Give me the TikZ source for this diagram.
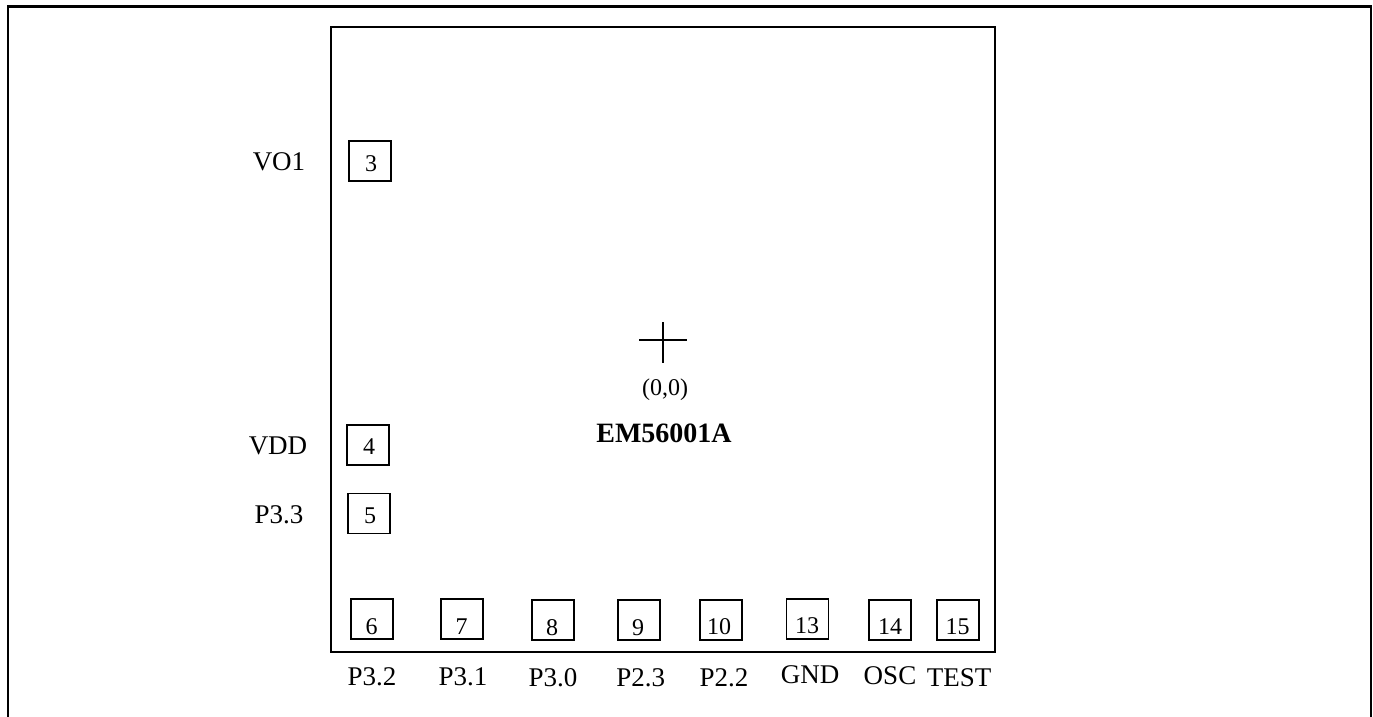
\documentclass[tikz,border=0pt]{standalone}
\usepackage{fontspec}
\setmainfont{Liberation Serif}
\tikzset{
  padbox/.style={draw=black,line width=1.8pt,rectangle,inner sep=0pt,minimum width=42pt,minimum height=40pt},
  pinlabel/.style={anchor=base,inner sep=0pt,font=\fontsize{27}{27}\selectfont},
  padnum/.style={anchor=base,inner sep=0pt,font=\fontsize{24}{24}\selectfont},
  frameline/.style={draw=black,line width=2.8pt,line join=miter},
  chipline/.style={draw=black,line width=2pt},
  crossline/.style={draw=black,line width=1.4pt}
}
\begin{document}
\begin{tikzpicture}[x=1pt,y=-1pt]
\useasboundingbox (0,0) rectangle (1373,717);
% outer frame, open at the bottom
\coordinate (fbl) at (8,717);
\coordinate (ftl) at (8,6.5);
\coordinate (ftr) at (1371,6.5);
\coordinate (fbr) at (1371,717);
\draw[frameline] (fbl) -- (ftl) -- (ftr) -- (fbr);
% chip
\node[chipline,rectangle,inner sep=0pt,minimum width=664.5pt,minimum height=624.5pt] (chip) at (662.75,339.75) {};
% pads
\node[padbox] (p3) at (370,161) {};
\node[padbox] (p4) at (367.7,445) {};
\node[padbox] (p5) at (369.3,513.5) {};
\node[padbox] (p6) at (372.2,619) {};
\node[padbox] (p7) at (462.2,619) {};
\node[padbox] (p8) at (553,620) {};
\node[padbox] (p9) at (639,620) {};
\node[padbox] (p10) at (721,620) {};
\node[padbox] (p13) at (807.5,619) {};
\node[padbox] (p14) at (890,620) {};
\node[padbox] (p15) at (957.7,620) {};
% pad numbers
\node[padnum] (n3) at (371,171.5) {3};
\node[padnum] (n4) at (369,454) {4};
\node[padnum] (n5) at (370,523) {5};
\node[padnum] (n6) at (371.5,634) {6};
\node[padnum] (n7) at (461.7,634) {7};
\node[padnum] (n8) at (552,635) {8};
\node[padnum] (n9) at (638,635) {9};
\node[padnum] (n10) at (719,634.5) {10};
\node[padnum] (n13) at (807,633.5) {13};
\node[padnum] (n14) at (890,634.5) {14};
\node[padnum] (n15) at (957.5,634.5) {15};
% pin names
\node[pinlabel] (l3) at (279,170) {VO1};
\node[pinlabel] (l4) at (278,454) {VDD};
\node[pinlabel] (l5) at (279,523) {P3.3};
\node[pinlabel] (l6) at (372,685) {P3.2};
\node[pinlabel] (l7) at (463,685) {P3.1};
\node[pinlabel] (l8) at (553,686) {P3.0};
\node[pinlabel] (l9) at (640.7,686) {P2.3};
\node[pinlabel] (l10) at (724,686) {P2.2};
\node[pinlabel] (l13) at (810,683) {GND};
\node[pinlabel] (l14) at (890,684) {OSC};
\node[pinlabel] (l15) at (959,686) {TEST};
% origin cross
\coordinate (cw) at (639,340);
\coordinate (ce) at (687,340);
\coordinate (cn) at (663,322);
\coordinate (cs) at (663,363);
\draw[crossline] (cw) -- (ce);
\draw[crossline] (cn) -- (cs);
\node[padnum] (origin) at (665,395) {(0,0)};
\node[anchor=base,inner sep=0pt,font=\fontsize{28}{28}\selectfont\bfseries] (name) at (664,442) {EM56001A};
\end{tikzpicture}
\end{document}
